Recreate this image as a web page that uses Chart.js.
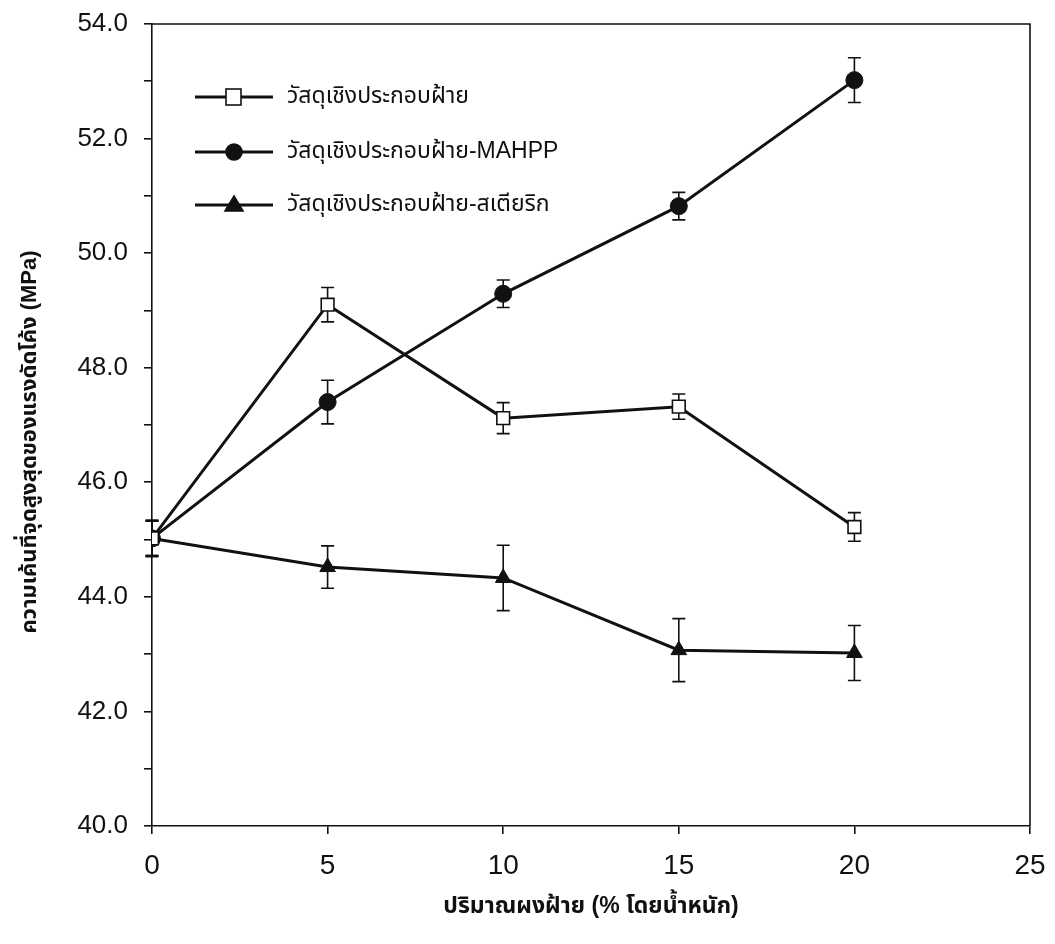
<!DOCTYPE html>
<html>
<head>
<meta charset="utf-8">
<script src="https://cdn.jsdelivr.net/npm/chart.js@4.4.0/dist/chart.umd.min.js"></script>
<style>
  html, body { margin: 0; padding: 0; background: #fff; }
  #wrap { width: 1055px; height: 944px; position: relative; }
</style>
</head>
<body>
<div id="wrap"><canvas id="c" width="1055" height="944"></canvas></div>
<script>
// ---- data ----
const xValues = [0, 5, 10, 15, 20];
const seriesNames = ['วัสดุเชิงประกอบฝ้าย', 'วัสดุเชิงประกอบฝ้าย-MAHPP', 'วัสดุเชิงประกอบฝ้าย-สเตียริก'];
const plainValues  = [45.02, 49.10, 47.12, 47.32, 45.22];
const plainErr     = [0.30, 0.30, 0.27, 0.22, 0.25];
const mahppValues  = [45.02, 47.40, 49.29, 50.82, 53.02];
const mahppErr     = [0.32, 0.38, 0.24, 0.24, 0.39];
const stearValues  = [45.02, 44.52, 44.33, 43.07, 43.02];
const stearErr     = [0.30, 0.37, 0.57, 0.55, 0.48];
const xTitle = 'ปริมาณผงฝ้าย (% โดยน้ำหนัก)';
const yTitle = 'ความเค้นที่จุดสูงสุดของแรงดัดโค้ง (MPa)';
const yMin = 40, yMax = 54, xMin = 0, xMax = 25;

const FONT = "'Liberation Sans', Arial, 'Noto Sans Thai', 'Noto Sans', sans-serif";

function pts(vals) { return xValues.map((x, i) => ({ x: x, y: vals[i] })); }

const errorSets = [plainErr, mahppErr, stearErr];

const errorBarPlugin = {
  id: 'errorBars',
  beforeDatasetsDraw(chart) {
    const ctx = chart.ctx;
    const xs = chart.scales.x, ys = chart.scales.y;
    ctx.save();
    ctx.strokeStyle = '#111';
    ctx.lineWidth = 1.6;
    chart.data.datasets.forEach((ds, di) => {
      const errs = errorSets[di];
      ds.data.forEach((p, i) => {
        const px = xs.getPixelForValue(p.x);
        const top = ys.getPixelForValue(p.y + errs[i]);
        const bot = ys.getPixelForValue(p.y - errs[i]);
        const cap = 6.5;
        ctx.beginPath();
        ctx.moveTo(px, top); ctx.lineTo(px, bot);
        ctx.moveTo(px - cap, top); ctx.lineTo(px + cap, top);
        ctx.moveTo(px - cap, bot); ctx.lineTo(px + cap, bot);
        ctx.stroke();
      });
    });
    ctx.restore();
  }
};

const framePlugin = {
  id: 'frame',
  afterDraw(chart) {
    const { ctx, chartArea: a } = chart;
    ctx.save();
    ctx.strokeStyle = '#111';
    ctx.lineWidth = 1.6;
    ctx.beginPath();
    ctx.moveTo(a.left, a.top); ctx.lineTo(a.right, a.top); ctx.lineTo(a.right, a.bottom);
    ctx.stroke();

    // axis titles
    ctx.fillStyle = '#111';
    ctx.font = "bold 23px " + FONT;
    ctx.textAlign = 'center';
    ctx.textBaseline = 'middle';
    ctx.fillText(xTitle, 591, 907);
    ctx.translate(30, 442);
    ctx.rotate(-Math.PI / 2);
    ctx.font = "bold 22px " + FONT;
    ctx.fillText(yTitle, 0, 0);
    ctx.restore();

    // legend
    ctx.save();
    const rows = [97, 152, 205];
    chart.data.datasets.forEach((ds, i) => {
      const y = rows[i];
      ctx.strokeStyle = '#111';
      ctx.lineWidth = 3;
      ctx.beginPath();
      ctx.moveTo(195, y); ctx.lineTo(273, y);
      ctx.stroke();
      ctx.lineWidth = 1.6;
      ctx.fillStyle = ds.pointBackgroundColor;
      ctx.strokeStyle = '#111';
      if (ds.pointStyle === 'rect') {
        ctx.fillRect(226, y - 8, 15, 16);
        ctx.strokeRect(226, y - 8, 15, 16);
      } else if (ds.pointStyle === 'circle') {
        ctx.beginPath(); ctx.arc(234, y, 8, 0, Math.PI * 2); ctx.fill(); ctx.stroke();
      } else {
        ctx.beginPath(); ctx.moveTo(234, y - 9); ctx.lineTo(243, y + 6); ctx.lineTo(225, y + 6); ctx.closePath(); ctx.fill(); ctx.stroke();
      }
      ctx.fillStyle = '#111';
      ctx.font = "23px " + FONT;
      ctx.textAlign = 'left';
      ctx.textBaseline = 'middle';
      ctx.fillText(seriesNames[i], 287, y);
    });
    ctx.restore();
  }
};

function zeroPad(s) { s.paddingTop = 0; s.paddingBottom = 0; s.paddingLeft = 0; s.paddingRight = 0; }

new Chart(document.getElementById('c'), {
  type: 'line',
  data: {
    datasets: [
      { label: seriesNames[0], data: pts(plainValues), borderColor: '#111', borderWidth: 3,
        pointStyle: 'rect', pointRadius: 9, pointBackgroundColor: '#fff', pointBorderColor: '#111', pointBorderWidth: 1.6, tension: 0 },
      { label: seriesNames[1], data: pts(mahppValues), borderColor: '#111', borderWidth: 3,
        pointStyle: 'circle', pointRadius: 8.5, pointBackgroundColor: '#111', pointBorderColor: '#111', pointBorderWidth: 1, tension: 0 },
      { label: seriesNames[2], data: pts(stearValues), borderColor: '#111', borderWidth: 3,
        pointStyle: 'triangle', pointRadius: 9, pointBackgroundColor: '#111', pointBorderColor: '#111', pointBorderWidth: 1, tension: 0 }
    ]
  },
  options: {
    responsive: false,
    animation: false,
    events: [],
    layout: { padding: { top: 24, right: 25, left: 0, bottom: 0 } },
    plugins: { legend: { display: false }, tooltip: { enabled: false } },
    scales: {
      x: {
        type: 'linear', min: xMin, max: xMax,
        border: { display: true, color: '#111', width: 1.6 },
        grid: { drawOnChartArea: false, drawTicks: true, tickLength: 8, color: '#111', lineWidth: 1.6 },
        ticks: { stepSize: 5, color: '#111', font: { family: FONT, size: 28 }, padding: 15, maxRotation: 0,
                 callback: v => String(v) },
        afterFit(s) { s.height = 118; zeroPad(s); }
      },
      y: {
        type: 'linear', min: yMin, max: yMax,
        border: { display: true, color: '#111', width: 1.6 },
        grid: { drawOnChartArea: false, drawTicks: true, tickLength: 8, color: '#111', lineWidth: 1.6 },
        ticks: { stepSize: 1, color: '#111', font: { family: FONT, size: 26 }, padding: 16,
                 callback: v => (Math.round(v) % 2 === 0 ? v.toFixed(1) : '') },
        afterFit(s) { s.width = 152; zeroPad(s); }
      }
    }
  },
  plugins: [errorBarPlugin, framePlugin]
});
</script>
</body>
</html>
